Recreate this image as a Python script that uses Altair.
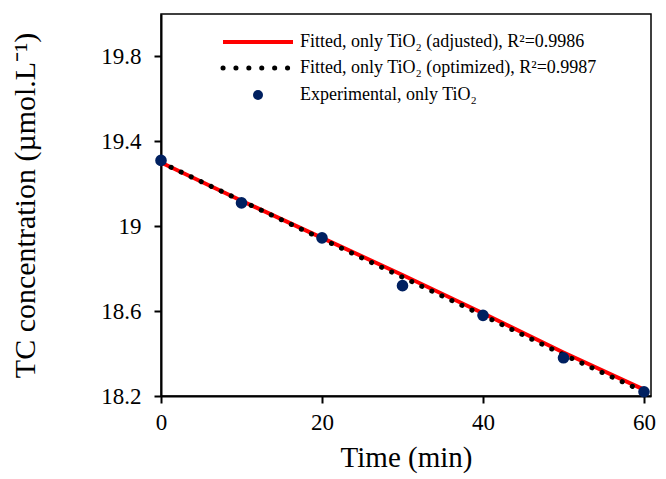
import altair as alt
import pandas as pd

# Experimental data
time_exp = [0, 10, 20, 30, 40, 50, 60]
tc_exp = [19.31, 19.11, 18.945, 18.72, 18.58, 18.38, 18.22]

# Fitted curves
time_fit = [0, 10, 20, 30, 40, 50, 60]
tc_adjusted = [19.30, 19.12, 18.945, 18.77, 18.59, 18.405, 18.23]
tc_optimized = [19.30, 19.12, 18.94, 18.76, 18.58, 18.395, 18.22]

x_ticks = [0, 20, 40, 60]
y_ticks = [18.2, 18.6, 19.0, 19.4, 19.8]

legend_labels = [
    "Fitted, only TiO₂ (adjusted), R²=0.9986",
    "Fitted, only TiO₂ (optimized), R²=0.9987",
    "Experimental, only TiO₂",
]

FONT = "Liberation Serif"
NAVY = "#002060"

df_exp = pd.DataFrame({"t": time_exp, "c": tc_exp})
df_fit = pd.DataFrame({"t": time_fit, "adj": tc_adjusted, "opt": tc_optimized})

xscale = alt.Scale(domain=[0, 60.87], nice=False, zero=False)
yscale = alt.Scale(domain=[18.2, 20.0], nice=False, zero=False)

common = dict(
    grid=False, labelFont=FONT, labelFontSize=23, labelColor="black",
    titleFont=FONT, titleFontWeight="normal", titleColor="black",
    domainColor="black", domainWidth=2, tickColor="black", tickWidth=2, tickSize=7,
    labelFlush=False,
)
xaxis = alt.Axis(values=x_ticks, title="Time (min)", labelPadding=8, titlePadding=9,
                 titleFontSize=29, **common)
yaxis = alt.Axis(
    values=y_ticks, title="TC concentration (µmol.L⁻¹)",
    labelExpr="format(datum.value, '.1~f')", labelPadding=13, titlePadding=60,
    titleFontSize=30, **common,
)

red = alt.Chart(df_fit).mark_line(color="#FF0000", strokeWidth=4).encode(
    x=alt.X("t:Q", scale=xscale, axis=xaxis),
    y=alt.Y("adj:Q", scale=yscale, axis=yaxis),
)
dots = alt.Chart(df_fit).mark_line(
    color="black", strokeWidth=5, strokeDash=[0.1, 11], strokeCap="round"
).encode(x=alt.X("t:Q", scale=xscale, axis=xaxis), y=alt.Y("opt:Q", scale=yscale, axis=yaxis))
pts = alt.Chart(df_exp).mark_point(filled=True, size=135, color=NAVY, opacity=1).encode(
    x=alt.X("t:Q", scale=xscale, axis=xaxis), y=alt.Y("c:Q", scale=yscale, axis=yaxis)
)

# Legend (manual)
leg_df = pd.DataFrame({"label": legend_labels})
leg_red = alt.Chart(leg_df.iloc[[0]]).mark_rule(color="#FF0000", strokeWidth=4).encode(
    x=alt.value(62), x2=alt.value(132), y=alt.value(28)
)
leg_dot = alt.Chart(leg_df.iloc[[1]]).mark_rule(
    color="black", strokeWidth=5, strokeDash=[0.1, 12.8], strokeCap="round"
).encode(x=alt.value(62), x2=alt.value(128), y=alt.value(54))
leg_pt = alt.Chart(leg_df.iloc[[2]]).mark_point(filled=True, size=100, color=NAVY, opacity=1).encode(
    x=alt.value(97), y=alt.value(81)
)
leg_txt = [
    alt.Chart(leg_df.iloc[[i]]).mark_text(
        font=FONT, fontSize=18, color="black", align="left", baseline="middle"
    ).encode(x=alt.value(139), y=alt.value(yy), text="label:N")
    for i, yy in enumerate([28, 54, 81])
]

chart = alt.layer(red, dots, pts, leg_red, leg_dot, leg_pt, *leg_txt).properties(
    width=490, height=382, background="white",
    autosize=alt.AutoSizeParams(type="none"),
    padding={"left": 153, "top": 6, "right": 7, "bottom": 83},
).configure_view(
    stroke="black", strokeWidth=1.5
).configure_axis(**common)

chart.save("out.html", embed_options={"renderer": "svg", "actions": False})
